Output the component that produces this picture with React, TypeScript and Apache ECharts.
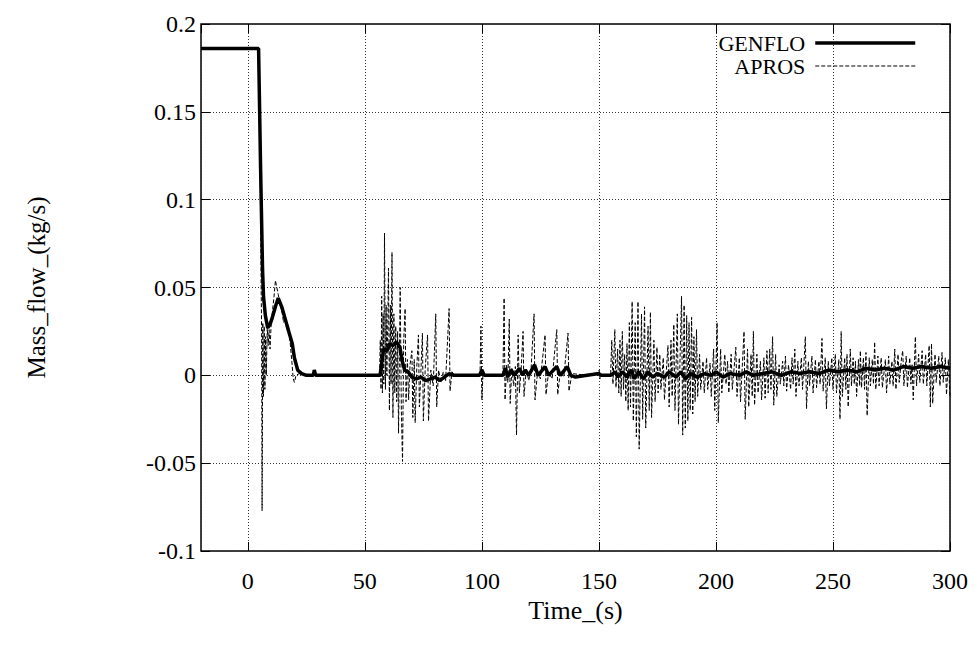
import React, { useEffect, useRef } from "react";
import * as echarts from "echarts";

const xTicks = [0, 50, 100, 150, 200, 250, 300];
const yTicks = [-0.1, -0.05, 0, 0.05, 0.1, 0.15, 0.2];
const seriesNames = ["GENFLO", "APROS"];

const genfloData: number[][] = [
  [-20, 0.186], [4.6, 0.186], [5.5, 0.115], [6.3, 0.06], [6.7, 0.045], [7.5, 0.034], [8.5, 0.027],
  [9.5, 0.029], [10.5, 0.033], [12, 0.04], [13, 0.044], [14.5, 0.039], [16, 0.032], [17.7, 0.024],
  [19, 0.018], [19.9, 0.01], [21.3, 0.003], [23, 0.001], [25, 0.0], [28, 0.0], [28.4, 0.003], [29, 0.0],
  [40, 0], [56.5, 0], [57.3, 0.008], [58, 0.015], [59.5, 0.014], [60.5, 0.018], [62, 0.017], [63.5, 0.019],
  [65, 0.016], [66, 0.008], [67, 0.003], [68.5, 0.002], [70, -0.001], [72, -0.002], [74, -0.001],
  [76, -0.003], [78, -0.002], [80, -0.001], [82, -0.003], [84, -0.001], [86, 0.001], [88, 0], [99, 0],
  [100, 0.003], [101, 0], [109, 0], [110, 0.004], [111, -0.001], [112.5, 0.003], [114, 0], [116, 0.004],
  [117.5, 0], [118.5, 0.003], [120, 0], [122.5, 0.006], [124, 0], [127, 0.005], [128.5, 0], [132, 0.005],
  [133.5, 0], [136.5, 0.005], [138, 0], [140, -0.001], [145, 0], [150, 0.001], [151, 0], [155, 0.0],
  [157, 0.002], [158, -0.001], [160, 0.002], [162, -0.001], [164, 0.003], [165, -0.002], [167, 0.002],
  [169, -0.002], [171, 0.002], [173, -0.001], [175, 0.001], [178, -0.001], [180, 0.002], [183, -0.001],
  [185, 0.002], [187, -0.002], [189, 0.001], [192, -0.001], [195, 0.001], [198, 0.0], [200, 0.002],
  [203, -0.001], [206, 0.001], [210, 0.0], [213, 0.002], [216, 0.0], [220, 0.001], [224, 0.002],
  [228, 0.0], [232, 0.002], [236, 0.001], [240, 0.002], [244, 0.001], [248, 0.003], [252, 0.002],
  [256, 0.003], [260, 0.002], [264, 0.004], [268, 0.003], [272, 0.004], [276, 0.003], [280, 0.005],
  [284, 0.004], [288, 0.005], [292, 0.004], [296, 0.005], [300, 0.004],
];

const aprosData: number[][] = [
  [-20, 0.186], [4.5, 0.186], [5.0, 0.14], [5.4, 0.1], [5.7, 0.05], [5.9, 0.025], [6.1, -0.077],
  [6.4, 0.03], [6.7, -0.012], [7.0, 0.028], [7.3, -0.008], [7.6, 0.022], [7.9, 0.0], [8.3, 0.027],
  [8.7, 0.017], [9.1, 0.026], [9.5, 0.015], [10.0, 0.03], [10.5, 0.036], [11.2, 0.045], [11.8, 0.054],
  [12.4, 0.05], [13.0, 0.046], [13.8, 0.04], [14.6, 0.036], [15.3, 0.03], [16.0, 0.033], [16.6, 0.026],
  [17.3, 0.029], [18.0, 0.02], [18.8, 0.008], [19.4, -0.002], [19.9, -0.004], [20.6, 0.0], [22, 0.001],
  [25, 0.0], [28.4, 0.0], [28.7, 0.002], [29.1, 0.0], [56.3, 0.0],
  [56.6, 0.02], [56.9, -0.008], [57.2, 0.045], [57.5, -0.01], [57.8, 0.035], [58.1, -0.005], [58.4, 0.081],
  [58.8, -0.008], [59.1, 0.04], [59.4, 0.0], [59.8, 0.03], [60.1, 0.061], [60.5, -0.02], [60.9, 0.04],
  [61.2, -0.005], [61.6, 0.07], [62.0, -0.024], [62.4, 0.035], [62.8, -0.01], [63.2, 0.028], [63.6, -0.015],
  [64.0, 0.025], [64.4, -0.033], [65.1, 0.05], [65.6, -0.02], [66.1, -0.049], [66.6, 0.02], [67.2, 0.038],
  [67.6, -0.015], [68.2, 0.009], [68.7, -0.014], [69.3, 0.006], [70.1, 0.014], [70.5, -0.024], [71.1, 0.009],
  [71.5, -0.027], [72.2, 0.005], [72.9, 0.023], [73.3, -0.018], [74.0, 0.004], [74.6, 0.024], [75.0, -0.026],
  [75.8, 0.004], [76.8, 0.023], [77.2, -0.026], [78.2, 0.003], [79.2, -0.006], [80.3, 0.035], [80.7, -0.018],
  [81.5, 0.003], [82.5, -0.004], [83.5, 0.002], [84.5, -0.003], [86.0, 0.038], [86.4, -0.009], [87.2, 0.002],
  [88.5, 0.0],
  [99.2, 0.0], [99.6, 0.028], [100.0, -0.014], [100.5, 0.002], [101.5, 0.0], [109.0, 0.0], [109.5, 0.044],
  [109.9, -0.014], [110.6, 0.006], [111.1, -0.004], [111.7, 0.032], [112.1, -0.016], [112.8, 0.004],
  [113.6, -0.006], [114.3, 0.005], [114.8, -0.034], [115.5, 0.023], [116.0, -0.01], [116.8, 0.004],
  [117.6, 0.025], [118.0, -0.012], [119.0, 0.004], [120.0, -0.003], [121.0, 0.003], [122.3, 0.035],
  [122.7, -0.014], [123.8, 0.002], [125.0, -0.002], [127.0, 0.023], [127.4, -0.011], [128.5, 0.002],
  [130.0, -0.002], [132.0, 0.026], [132.4, -0.011], [133.5, 0.002], [135.0, -0.001], [136.8, 0.024],
  [137.2, -0.009], [138.5, 0.001], [145, 0.0], [149.8, 0.0], [150.1, 0.003], [150.5, -0.002], [151, 0.0],
  [155, 0.0],
  [155.5, 0.02], [156, -0.005], [156.8, 0.026], [157.3, -0.007], [158, 0.015], [158.5, -0.01], [159, 0.02],
  [159.5, -0.012], [160, 0.025], [160.5, -0.008], [161, 0.012], [161.5, -0.015], [162, 0.018], [162.5, -0.02],
  [163, 0.03], [163.5, -0.018], [164.2, 0.042], [164.7, -0.026], [165.5, 0.03], [166, -0.035], [166.7, 0.042],
  [167.2, -0.042], [168.2, 0.035], [168.7, -0.025], [169.5, 0.039], [170, -0.03], [171, 0.028], [171.5, -0.02],
  [172, 0.036], [172.5, -0.024], [173.5, 0.02], [174, -0.015], [174.8, 0.016], [175.3, -0.01], [176, 0.012],
  [176.5, -0.008], [177.5, 0.01], [178, -0.014], [179.5, 0.017], [180, -0.018], [180.8, 0.02], [181.3, -0.012],
  [182, 0.029], [182.5, -0.02], [183.5, 0.035], [184, -0.028], [185.3, 0.045], [185.8, -0.034], [186.4, 0.04],
  [186.9, -0.03], [187.5, 0.034], [188, -0.026], [188.5, 0.03], [189, -0.02], [189.6, 0.033], [190.1, -0.022],
  [190.6, 0.022], [191.1, -0.015], [191.7, 0.026], [192.2, -0.012], [193, 0.012], [193.5, -0.008],
  [194.5, 0.008], [195, -0.01], [196, 0.01], [196.5, -0.008], [197.5, 0.007], [198, -0.012], [199, 0.015],
  [199.5, -0.02], [200.5, 0.03], [201, -0.027], [202, 0.015], [202.5, -0.01], [203.8, 0.012], [204.3, -0.005],
  [205, 0.008], [205.5, -0.01], [206.5, 0.012], [207, -0.008], [208.5, 0.016], [209, -0.012], [210, 0.01],
  [210.5, -0.015], [212, 0.025], [212.5, -0.025], [213.5, 0.015], [214, -0.018], [215, 0.012], [215.5, -0.012],
  [216, 0.025], [216.5, -0.017], [217.5, 0.012], [218, -0.01], [219, 0.008], [219.5, -0.014], [220.5, 0.01],
  [221, -0.013], [221.8, 0.014], [222.3, -0.01], [223, 0.015], [223.5, -0.008], [224.2, 0.022], [224.7, -0.017],
  [225.5, 0.012], [226, -0.012], [227, 0.006], [227.5, -0.005], [228.5, 0.008], [229, -0.006], [229.7, 0.011],
  [230.2, -0.009], [231, 0.006], [231.9, -0.008], [232.5, 0.01], [233, -0.005], [233.7, 0.015], [234.2, -0.012],
  [235, 0.008], [235.5, -0.006], [236.5, 0.01], [237, -0.008], [238.2, 0.022], [238.7, -0.019], [239.5, 0.008],
  [240, -0.006], [241, 0.011], [241.5, -0.01], [242.5, 0.009], [243, -0.007], [244, 0.008], [244.5, -0.005],
  [245.3, 0.021], [245.8, -0.009], [246.7, 0.01], [247.2, -0.019], [248, 0.008], [248.5, -0.006], [249.5, 0.01],
  [250, -0.008], [251, 0.012], [251.5, -0.01], [252.5, 0.009], [253, -0.025], [253.5, 0.025], [254, -0.012],
  [255, 0.01], [255.5, -0.008], [256, 0.012], [256.5, -0.018], [257.4, 0.015], [257.9, -0.006], [258.6, 0.01],
  [259.1, -0.005], [259.6, 0.008], [260.1, -0.012], [260.9, 0.009], [261.4, -0.006], [261.7, 0.014],
  [262.2, -0.007], [263, 0.01], [263.5, -0.008], [264.1, 0.013], [264.6, -0.023], [265.5, 0.01], [266, -0.006],
  [266.8, 0.009], [267.3, -0.005], [267.8, 0.019], [268.3, -0.008], [269.2, 0.011], [269.7, -0.006],
  [270.6, 0.01], [271.1, -0.007], [272.4, 0.009], [272.9, -0.01], [273.8, 0.011], [274.3, -0.005],
  [275.2, 0.008], [275.7, -0.006], [276.4, 0.015], [276.9, -0.008], [277.8, 0.012], [278.3, -0.004],
  [279.3, 0.01], [279.8, 0.014], [280.3, -0.006], [281.3, 0.011], [281.8, -0.007], [282.8, 0.01],
  [283.3, -0.005], [283.8, 0.006], [284.3, -0.014], [285.2, 0.022], [285.7, -0.006], [286.6, 0.012],
  [287.1, -0.004], [288.1, 0.014], [288.6, -0.005], [289.6, 0.012], [290.1, -0.006], [291.1, 0.017],
  [291.6, -0.018], [292.1, 0.018], [292.6, -0.016], [293.6, 0.012], [294.1, -0.004], [295.2, 0.011],
  [295.7, -0.006], [296.6, 0.013], [297.1, -0.004], [298, 0.01], [298.5, -0.011], [299.3, 0.009], [300, -0.012],
];

const FONT = "'Liberation Serif', 'Times New Roman', serif";

export default function App() {
  const ref = useRef<HTMLDivElement>(null);
  useEffect(() => {
    if (!ref.current) return;
    const chart = echarts.init(ref.current, null, { renderer: "svg" });
    const xMin = -20;
    const xMax = xTicks[xTicks.length - 1];
    const yMin = yTicks[0];
    const yMax = yTicks[yTicks.length - 1];
    const xStep = xTicks[1] - xTicks[0];
    const yStep = 0.05;
    const tickStyle = { show: true, inside: true, length: 9, lineStyle: { color: "#000", width: 1 } };
    const gridLine = { show: true, lineStyle: { color: "#333", width: 1, type: [1, 2] as any } };
    chart.setOption({
      animation: false,
      backgroundColor: "#fff",
      textStyle: { fontFamily: FONT, color: "#000", fontSize: 24 },
      grid: {
        left: 201,
        right: 30,
        top: 24,
        bottom: 97,
        show: true,
        borderColor: "#000",
        borderWidth: 1.5,
        backgroundColor: "transparent",
      },
      legend: {
        show: true,
        data: [
          { name: seriesNames[0], lineStyle: { width: 3.5, color: "#000" } },
          { name: seriesNames[1], lineStyle: { width: 1, color: "#000", type: [4, 2] } },
        ],
        orient: "vertical",
        align: "right",
        right: 58,
        top: 27,
        itemWidth: 100,
        itemHeight: 20,
        itemGap: 1,
        itemStyle: { opacity: 0 },
        textStyle: { fontFamily: FONT, fontSize: 22, color: "#000", padding: [0, 5, 0, 0] },
      },
      xAxis: [
        {
          type: "value",
          min: xMin,
          max: xMax,
          splitNumber: 6,
          minInterval: xStep,
          maxInterval: xStep,
          name: "Time_(s)",
          nameLocation: "middle",
          nameGap: 44,
          nameTextStyle: { fontFamily: FONT, fontSize: 26, color: "#000" },
          axisLine: { show: false, onZero: false },
          axisTick: tickStyle,
          axisLabel: {
            showMinLabel: false,
            margin: 18,
            fontFamily: FONT,
            fontSize: 24,
            color: "#000",
            formatter: (v: number) => (xTicks.includes(v) ? String(v) : ""),
          },
          splitLine: gridLine,
        },
        {
          type: "value",
          position: "top",
          min: xMin,
          max: xMax,
          splitNumber: 6,
          minInterval: xStep,
          maxInterval: xStep,
          axisLine: { show: false, onZero: false },
          axisTick: tickStyle,
          axisLabel: { show: false },
          splitLine: { show: false },
        },
      ],
      yAxis: [
        {
          type: "value",
          min: yMin,
          max: yMax,
          interval: yStep,
          name: "Mass_flow_(kg/s)",
          nameLocation: "middle",
          nameRotate: 90,
          nameGap: 152,
          nameTextStyle: { fontFamily: FONT, fontSize: 25, color: "#000" },
          axisLine: { show: false, onZero: false },
          axisTick: tickStyle,
          axisLabel: {
            margin: 5,
            fontFamily: FONT,
            fontSize: 24,
            color: "#000",
            formatter: (v: number) => String(Math.round(v * 1000) / 1000),
          },
          splitLine: gridLine,
        },
        {
          type: "value",
          position: "right",
          min: yMin,
          max: yMax,
          interval: yStep,
          axisLine: { show: false, onZero: false },
          axisTick: tickStyle,
          axisLabel: { show: false },
          splitLine: { show: false },
        },
      ],
      series: [
        {
          name: seriesNames[0],
          type: "line",
          data: genfloData,
          xAxisIndex: 0,
          yAxisIndex: 0,
          showSymbol: false,
          symbol: "none",
          lineStyle: { color: "#000", width: 3.5 },
          itemStyle: { color: "#000" },
          z: 3,
        },
        {
          name: seriesNames[1],
          type: "line",
          data: aprosData,
          xAxisIndex: 0,
          yAxisIndex: 0,
          showSymbol: false,
          symbol: "none",
          lineStyle: { color: "#000", width: 1, type: [4, 2] },
          itemStyle: { color: "#000" },
          z: 4,
        },
      ],
    });
    return () => chart.dispose();
  }, []);
  return (
    <div
      ref={ref}
      style={{ position: "fixed", left: 0, top: 0, width: 980, height: 648, background: "#fff" }}
    />
  );
}
